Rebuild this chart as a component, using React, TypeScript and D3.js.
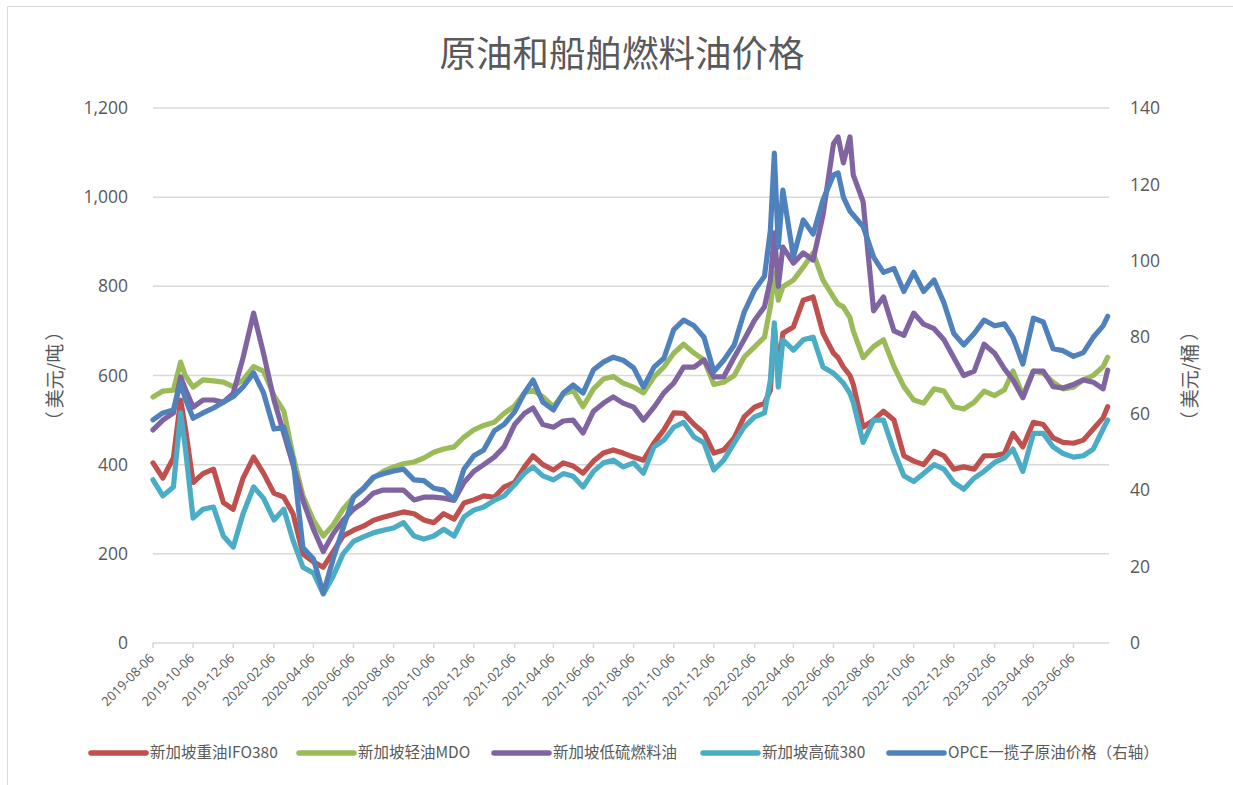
import React from "react";
import * as d3 from "d3";

const dates: string[] = [
  "2019-08-06","2019-08-21","2019-09-06","2019-09-17","2019-09-24","2019-10-06","2019-10-21","2019-11-06","2019-11-21","2019-12-06","2019-12-21",
  "2020-01-06","2020-01-21","2020-02-06","2020-02-21","2020-03-06","2020-03-21","2020-04-06","2020-04-21","2020-05-06","2020-05-21",
  "2020-06-06","2020-06-21","2020-07-06","2020-07-21","2020-08-06","2020-08-21","2020-09-06","2020-09-21","2020-10-06","2020-10-21",
  "2020-11-06","2020-11-21","2020-12-06","2020-12-21","2021-01-06","2021-01-21","2021-02-06","2021-02-21","2021-03-06","2021-03-21",
  "2021-04-06","2021-04-21","2021-05-06","2021-05-21","2021-06-06","2021-06-21","2021-07-06","2021-07-21","2021-08-06","2021-08-21",
  "2021-09-06","2021-09-21","2021-10-06","2021-10-21","2021-11-06","2021-11-21","2021-12-06","2021-12-21","2022-01-06","2022-01-21",
  "2022-02-06","2022-02-21","2022-03-02","2022-03-08","2022-03-14","2022-03-21","2022-04-06","2022-04-21","2022-05-06","2022-05-21",
  "2022-06-06","2022-06-13","2022-06-21","2022-07-01","2022-07-06","2022-07-21","2022-08-06","2022-08-21","2022-09-06","2022-09-21",
  "2022-10-06","2022-10-21","2022-11-06","2022-11-21","2022-12-06","2022-12-21","2023-01-06","2023-01-21","2023-02-06","2023-02-21",
  "2023-03-06","2023-03-21","2023-04-06","2023-04-21","2023-05-06","2023-05-21","2023-06-06","2023-06-21","2023-07-06","2023-07-21","2023-07-28"
];

// 新加坡重油IFO380 (美元/吨)
const ifo380: number[] = [
  404,370,415,545,484,360,380,390,315,300,370,
  417,381,336,327,290,200,182,170,205,240,
  253,262,275,282,288,294,290,276,270,290,
  278,314,321,330,327,350,360,395,420,400,
  388,404,397,381,408,426,433,426,417,410,
  449,478,516,515,490,471,426,433,460,507,
  529,538,567,709,612,695,709,769,776,695,
  650,640,619,600,580,484,500,520,500,420,
  408,400,430,420,390,395,390,420,420,425,
  470,440,495,490,460,450,448,455,480,505,530
];

// 新加坡轻油MDO (美元/吨)
const mdo: number[] = [
  552,565,567,630,600,574,590,588,585,575,590,
  620,610,555,520,420,330,275,240,265,300,
  327,345,370,385,395,402,406,415,428,435,
  440,462,478,488,495,515,532,561,567,552,
  530,558,567,530,570,592,598,583,574,561,
  597,619,650,670,650,635,580,585,600,641,
  664,686,754,830,769,799,814,843,875,814,
  776,760,754,730,700,640,665,680,620,575,
  545,538,570,565,530,525,540,565,555,568,
  610,555,610,605,585,570,574,590,600,620,641
];

// 新加坡低硫燃料油 (美元/吨)
const lsfo: number[] = [
  478,500,516,597,570,529,545,545,540,560,640,
  740,650,545,470,400,320,255,205,245,275,
  300,315,336,343,343,343,321,327,327,325,
  320,360,385,400,417,440,490,515,527,490,
  484,498,500,471,520,538,552,538,529,500,
  529,561,583,619,619,635,597,597,641,680,
  724,754,814,920,800,888,852,875,859,960,
  1120,1135,1077,1135,1050,990,745,776,700,690,
  740,715,705,680,640,600,610,670,650,615,
  590,550,610,610,575,572,580,590,585,570,612
];

// 新加坡高硫380 (美元/吨)
const hsfo380: number[] = [
  366,330,350,516,440,280,300,305,240,215,290,
  350,325,276,300,230,170,157,110,150,200,
  228,238,247,253,258,270,240,233,240,255,
  240,283,298,305,320,330,355,381,395,375,
  366,380,374,350,385,404,410,395,404,381,
  440,455,484,495,462,449,388,410,449,484,
  507,516,590,718,574,680,657,680,686,619,
  605,595,583,560,540,450,500,500,430,375,
  362,380,400,390,360,345,370,385,405,415,
  435,385,470,470,440,425,417,420,435,480,500
];

// OPCE一揽子原油价格 (美元/桶, 右轴)
const opec: number[] = [
  58.4,60.2,61.0,68.0,64.0,58.8,60.2,61.5,63.0,64.5,67.0,
  70.7,65.5,56.0,56.5,48.0,25.0,22.0,13.0,22.0,30.0,
  38.2,40.5,43.4,44.3,45.0,45.5,42.7,42.5,40.5,40.0,
  37.5,45.5,49.0,50.5,55.5,57.2,60.5,65.5,68.8,63.0,
  61.0,65.4,67.5,65.4,71.5,73.5,74.8,74.0,72.0,67.0,
  72.2,74.5,82.0,84.5,83.0,80.0,71.0,74.0,78.0,86.5,
  92.4,96.0,108.0,128.2,103.6,118.5,101.0,110.7,107.0,115.9,
  122.5,123.0,116.7,113.0,112.0,109.0,101.0,97.0,98.0,92.0,
  97.0,92.0,95.0,89.0,81.0,78.0,81.0,84.5,83.0,83.5,
  80.0,73.0,85.0,84.0,77.0,76.5,75.0,76.0,80.0,83.0,85.5
];

const seriesNames: string[] = ["新加坡重油IFO380", "新加坡轻油MDO", "新加坡低硫燃料油", "新加坡高硫380", "OPCE一揽子原油价格（右轴）"];
const seriesColors: string[] = ["#C0504D", "#9BBB59", "#8064A2", "#4BACC6", "#4F81BD"];
const leftTicks: number[] = [0, 200, 400, 600, 800, 1000, 1200];
const rightTicks: number[] = [0, 20, 40, 60, 80, 100, 120, 140];
const xTickLabels: string[] = [
  "2019-08-06","2019-10-06","2019-12-06","2020-02-06","2020-04-06","2020-06-06","2020-08-06","2020-10-06",
  "2020-12-06","2021-02-06","2021-04-06","2021-06-06","2021-08-06","2021-10-06","2021-12-06","2022-02-06",
  "2022-04-06","2022-06-06","2022-08-06","2022-10-06","2022-12-06","2023-02-06","2023-04-06","2023-06-06"
];

const title = "原油和船舶燃料油价格";
const leftUnit = "美元/吨";
const rightUnit = "美元/桶";

export default function App() {
  const W = 1233, H = 785;
  const L = 153, R = 1109, T = 108, B = 643;
  const parse = d3.timeParse("%Y-%m-%d");
  const dts = dates.map((s) => parse(s) as Date);
  const x = d3.scaleTime().domain([parse("2019-08-06") as Date, parse("2023-07-30") as Date]).range([L, R]);
  const yL = d3.scaleLinear().domain([0, 1200]).range([B, T]);
  const yR = d3.scaleLinear().domain([0, 140]).range([B, T]);

  const data = [ifo380, mdo, lsfo, hsfo380, opec];
  const mk = (vals: number[], sc: d3.ScaleLinear<number, number>) =>
    d3.line<number>().x((_, i) => x(dts[i])).y((v) => sc(v))(vals) || "";

  const fontNum = "'Open Sans', 'DejaVu Sans', sans-serif";
  const fontCJK = "'Noto Sans CJK SC', sans-serif";
  const textColor = "#595959";
  const grid = "#d9d9d9";

  const legendX = [91, 299, 494, 703, 889];
  const legendY = 753;

  const unitTitle = (cx: number, unit: string) => (
    <text transform={`translate(${cx},376) rotate(-90)`} textAnchor="middle" dy="0.35em" fontFamily={fontCJK} fontSize={19} fill={textColor}>
      <tspan>（</tspan>
      <tspan dx={3}>{unit}</tspan>
      <tspan dx={3}>）</tspan>
    </text>
  );

  return (
    <svg width={W} height={H} style={{ position: "absolute", left: 0, top: 0, background: "#fff" }}>
      <rect x={7.5} y={6.5} width={1240} height={800} fill="#fff" stroke={grid} strokeWidth={1} />
      <text x={622} y={67} textAnchor="middle" fontFamily={fontCJK} fontSize={36.5} fill={textColor}>{title}</text>

      {leftTicks.map((t) => (
        <g key={"g" + t}>
          {t > 0 && <line x1={L} x2={R} y1={yL(t)} y2={yL(t)} stroke={grid} strokeWidth={1.5} />}
          <text x={128} y={yL(t)} dy="0.35em" textAnchor="end" fontFamily={fontNum} fontSize={17.5} fill={textColor}>
            {d3.format(",")(t)}
          </text>
        </g>
      ))}
      {rightTicks.map((t) => (
        <text key={"r" + t} x={1130} y={yR(t)} dy="0.35em" textAnchor="start" fontFamily={fontNum} fontSize={17.5} fill={textColor}>
          {t}
        </text>
      ))}

      <line x1={L} x2={R} y1={B} y2={B} stroke={grid} strokeWidth={1.5} />
      {xTickLabels.map((s) => {
        const xx = x(parse(s) as Date);
        return (
          <g key={s}>
            <line x1={xx} x2={xx} y1={B} y2={B + 5} stroke={grid} strokeWidth={1.5} />
            <text transform={`translate(${xx + 2},${B + 16}) rotate(-45)`} textAnchor="end" fontFamily={fontNum} fontSize={13} fill={textColor}>
              {s}
            </text>
          </g>
        );
      })}

      {unitTitle(55, leftUnit)}
      {unitTitle(1190, rightUnit)}

      {data.map((vals, i) => (
        <path key={"s" + i} d={mk(vals, i === 4 ? yR : yL)} fill="none" stroke={seriesColors[i]} strokeWidth={5.2}
          strokeLinejoin="round" strokeLinecap="round" />
      ))}

      {seriesNames.map((n, i) => (
        <g key={"l" + i}>
          <line x1={legendX[i]} x2={legendX[i] + 55} y1={legendY} y2={legendY} stroke={seriesColors[i]} strokeWidth={5.5} strokeLinecap="round" />
          <text x={legendX[i] + 59} y={legendY} dy="0.35em" fontFamily={fontCJK} fontSize={15.5} fill={textColor}>{n}</text>
        </g>
      ))}
    </svg>
  );
}
